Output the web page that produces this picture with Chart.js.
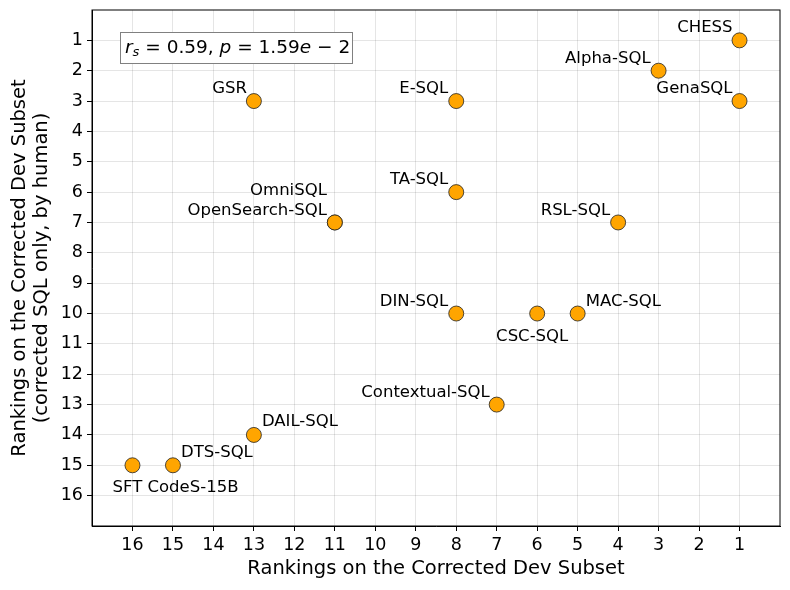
<!DOCTYPE html>
<html>
<head>
<meta charset="utf-8">
<script src="https://cdn.jsdelivr.net/npm/chart.js@4.4.1/dist/chart.umd.min.js"></script>
<style>
  body { margin: 0; background: #fff; }
  #wrap { width: 790px; height: 590px; }
</style>
</head>
<body>
<div id="wrap"><canvas id="chart"></canvas></div>
<script>
// methods and their two rankings
var methods = ["CHESS", "Alpha-SQL", "GenaSQL", "GSR", "E-SQL", "TA-SQL", "OmniSQL", "OpenSearch-SQL",
               "RSL-SQL", "DIN-SQL", "CSC-SQL", "MAC-SQL", "Contextual-SQL", "DAIL-SQL", "DTS-SQL", "SFT CodeS-15B"];
var devRank = [1, 3, 1, 13, 8, 8, 11, 11, 4, 8, 6, 5, 7, 13, 15, 16];
var humanRank = [1, 2, 3, 3, 3, 6, 7, 7, 7, 10, 10, 10, 13, 14, 15, 15];
var tickValues = [1, 2, 3, 4, 5, 6, 7, 8, 9, 10, 11, 12, 13, 14, 15, 16];

var FONT = "'DejaVu Sans', sans-serif";

// where each name goes next to its point: [dx, dy, align]
var labelPos = {
    "CHESS": [-7, -13, "right"],
    "Alpha-SQL": [-8, -12, "right"],
    "GenaSQL": [-7, -12, "right"],
    "GSR": [-7, -12, "right"],
    "E-SQL": [-8, -12, "right"],
    "TA-SQL": [-8, -12, "right"],
    "OmniSQL": [-8, -32, "right"],
    "OpenSearch-SQL": [-8, -12, "right"],
    "RSL-SQL": [-8, -12, "right"],
    "DIN-SQL": [-8, -12, "right"],
    "CSC-SQL": [-5, 23, "center"],
    "MAC-SQL": [8, -12, "left"],
    "Contextual-SQL": [-7, -12, "right"],
    "DAIL-SQL": [8, -13, "left"],
    "DTS-SQL": [8, -13, "left"],
    "SFT CodeS-15B": [-20, 22, "left"]
};

var points = devRank.map(function (x, i) { return { x: x, y: humanRank[i] }; });

var extras = {
    id: "extras",
    afterDatasetsDraw: function (chart) {
        var ctx = chart.ctx, a = chart.chartArea;
        var meta = chart.getDatasetMeta(0);
        ctx.save();
        ctx.font = "16.5px " + FONT;
        ctx.fillStyle = "#000";
        ctx.textBaseline = "middle";
        meta.data.forEach(function (el, i) {
            var p = labelPos[methods[i]];
            ctx.textAlign = p[2];
            ctx.fillText(methods[i], el.x + p[0], el.y + p[1]);
        });

        // annotation box
        var bx = a.left + 28, by = a.top + 22, bw = 232, bh = 31;
        ctx.fillStyle = "#fff";
        ctx.fillRect(bx, by, bw, bh);
        ctx.strokeStyle = "#808080";
        ctx.lineWidth = 1;
        ctx.strokeRect(bx + 0.5, by + 0.5, bw, bh);
        var parts = [
            ["r", "italic 18.5px " + FONT, 0],
            ["s", "italic 13px " + FONT, 4],
            [" = 0.59, ", "18.5px " + FONT, 0],
            ["p", "italic 18.5px " + FONT, 0],
            [" = 1.59", "18.5px " + FONT, 0],
            ["e", "italic 18.5px " + FONT, 0],
            [" \u2212 2", "18.5px " + FONT, 0]
        ];
        ctx.textAlign = "left";
        ctx.fillStyle = "#000";
        var tx = bx + 5, ty = by + bh / 2 + 1;
        parts.forEach(function (pt) {
            ctx.font = pt[1];
            ctx.fillText(pt[0], tx, ty + pt[2]);
            tx += ctx.measureText(pt[0]).width;
        });

        // frame on all four sides
        ctx.strokeStyle = "#000";
        ctx.strokeRect(a.left, a.top, a.right - a.left, a.bottom - a.top);
        ctx.restore();
    }
};

function onlyTicks(scale) {
    scale.ticks = tickValues.map(function (v) { return { value: v }; });
}

new Chart(document.getElementById("chart"), {
    type: "scatter",
    data: {
        datasets: [{
            data: points,
            backgroundColor: "#FFA500",
            borderColor: "#222",
            borderWidth: 0.8,
            pointRadius: 7.5,
            pointHoverRadius: 7.5
        }]
    },
    options: {
        responsive: true,
        maintainAspectRatio: false,
        animation: false,
        layout: { padding: { top: 10, right: 10, left: 0, bottom: 0 } },
        plugins: { legend: { display: false }, tooltip: { enabled: false } },
        scales: {
            x: {
                type: "linear",
                reverse: true,
                min: 0,
                max: 17,
                afterBuildTicks: onlyTicks,
                afterFit: function (s) { s.height = 64; s.paddingLeft = 0; s.paddingRight = 0; },
                ticks: { color: "#000", font: { family: FONT, size: 17.5 }, padding: 4, maxRotation: 0, autoSkip: false },
                grid: { color: "rgba(0,0,0,0.1)", tickColor: "#000", tickLength: 5 },
                border: { color: "#000" },
                title: { display: true, text: "Rankings on the Corrected Dev Subset", color: "#000",
                         font: { family: FONT, size: 19.5 }, padding: { top: 2, bottom: 9 } }
            },
            y: {
                type: "linear",
                reverse: true,
                min: 0,
                max: 17,
                afterBuildTicks: onlyTicks,
                afterFit: function (s) { s.width = 92; s.paddingTop = 0; s.paddingBottom = 0; },
                ticks: { color: "#000", font: { family: FONT, size: 17.5 }, padding: 4, autoSkip: false },
                grid: { color: "rgba(0,0,0,0.1)", tickColor: "#000", tickLength: 5 },
                border: { color: "#000" },
                title: { display: true, text: ["Rankings on the Corrected Dev Subset", "(corrected SQL only, by human)"],
                         color: "#000", font: { family: FONT, size: 19.5, lineHeight: 1.13 }, padding: { top: 9, bottom: 0 } }
            }
        }
    },
    plugins: [extras]
});
</script>
</body>
</html>
